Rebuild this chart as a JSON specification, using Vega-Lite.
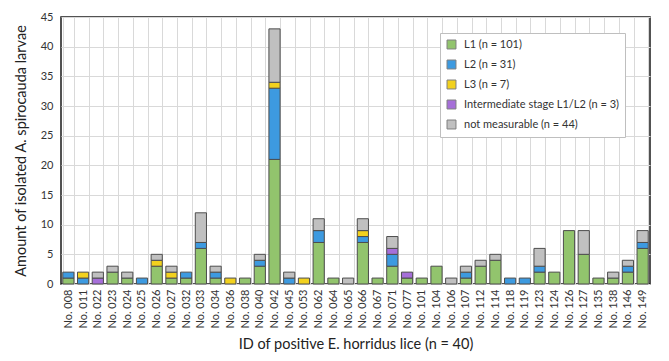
{
  "$schema": "https://vega.github.io/schema/vega-lite/v6.json",
  "autosize": {"type": "none"},
  "padding": {"left": 61, "top": 17, "right": 19, "bottom": 77},
  "width": 589,
  "height": 267,
  "background": "white",
  "config": {
    "font": "Lato",
    "view": {"stroke": "#1a1a1a", "strokeWidth": 1.5},
    "axis": {"labelFont": "Lato", "titleFont": "Lato", "labelColor": "#333333", "titleColor": "#222222", "titleFontWeight": "normal", "gridColor": "#d9d9d9", "gridWidth": 1}
  },
  "data": {"values": [
    {"id":"No. 008","stage":"L1 (n = 101)","o":1,"n":1},
    {"id":"No. 008","stage":"L2 (n = 31)","o":2,"n":1},
    {"id":"No. 011","stage":"L2 (n = 31)","o":2,"n":1},
    {"id":"No. 011","stage":"L3 (n = 7)","o":3,"n":1},
    {"id":"No. 022","stage":"Intermediate stage L1/L2 (n = 3)","o":4,"n":1},
    {"id":"No. 022","stage":"not measurable (n = 44)","o":5,"n":1},
    {"id":"No. 023","stage":"L1 (n = 101)","o":1,"n":2},
    {"id":"No. 023","stage":"not measurable (n = 44)","o":5,"n":1},
    {"id":"No. 024","stage":"L1 (n = 101)","o":1,"n":1},
    {"id":"No. 024","stage":"not measurable (n = 44)","o":5,"n":1},
    {"id":"No. 025","stage":"L2 (n = 31)","o":2,"n":1},
    {"id":"No. 026","stage":"L1 (n = 101)","o":1,"n":3},
    {"id":"No. 026","stage":"L3 (n = 7)","o":3,"n":1},
    {"id":"No. 026","stage":"not measurable (n = 44)","o":5,"n":1},
    {"id":"No. 027","stage":"L1 (n = 101)","o":1,"n":1},
    {"id":"No. 027","stage":"L3 (n = 7)","o":3,"n":1},
    {"id":"No. 027","stage":"not measurable (n = 44)","o":5,"n":1},
    {"id":"No. 032","stage":"L1 (n = 101)","o":1,"n":1},
    {"id":"No. 032","stage":"L2 (n = 31)","o":2,"n":1},
    {"id":"No. 033","stage":"L1 (n = 101)","o":1,"n":6},
    {"id":"No. 033","stage":"L2 (n = 31)","o":2,"n":1},
    {"id":"No. 033","stage":"not measurable (n = 44)","o":5,"n":5},
    {"id":"No. 034","stage":"L1 (n = 101)","o":1,"n":1},
    {"id":"No. 034","stage":"L2 (n = 31)","o":2,"n":1},
    {"id":"No. 034","stage":"not measurable (n = 44)","o":5,"n":1},
    {"id":"No. 036","stage":"L3 (n = 7)","o":3,"n":1},
    {"id":"No. 038","stage":"L1 (n = 101)","o":1,"n":1},
    {"id":"No. 040","stage":"L1 (n = 101)","o":1,"n":3},
    {"id":"No. 040","stage":"L2 (n = 31)","o":2,"n":1},
    {"id":"No. 040","stage":"not measurable (n = 44)","o":5,"n":1},
    {"id":"No. 042","stage":"L1 (n = 101)","o":1,"n":21},
    {"id":"No. 042","stage":"L2 (n = 31)","o":2,"n":12},
    {"id":"No. 042","stage":"L3 (n = 7)","o":3,"n":1},
    {"id":"No. 042","stage":"not measurable (n = 44)","o":5,"n":9},
    {"id":"No. 045","stage":"L2 (n = 31)","o":2,"n":1},
    {"id":"No. 045","stage":"not measurable (n = 44)","o":5,"n":1},
    {"id":"No. 053","stage":"L3 (n = 7)","o":3,"n":1},
    {"id":"No. 062","stage":"L1 (n = 101)","o":1,"n":7},
    {"id":"No. 062","stage":"L2 (n = 31)","o":2,"n":2},
    {"id":"No. 062","stage":"not measurable (n = 44)","o":5,"n":2},
    {"id":"No. 064","stage":"L1 (n = 101)","o":1,"n":1},
    {"id":"No. 065","stage":"not measurable (n = 44)","o":5,"n":1},
    {"id":"No. 066","stage":"L1 (n = 101)","o":1,"n":7},
    {"id":"No. 066","stage":"L2 (n = 31)","o":2,"n":1},
    {"id":"No. 066","stage":"L3 (n = 7)","o":3,"n":1},
    {"id":"No. 066","stage":"not measurable (n = 44)","o":5,"n":2},
    {"id":"No. 067","stage":"L1 (n = 101)","o":1,"n":1},
    {"id":"No. 071","stage":"L1 (n = 101)","o":1,"n":3},
    {"id":"No. 071","stage":"L2 (n = 31)","o":2,"n":2},
    {"id":"No. 071","stage":"Intermediate stage L1/L2 (n = 3)","o":4,"n":1},
    {"id":"No. 071","stage":"not measurable (n = 44)","o":5,"n":2},
    {"id":"No. 077","stage":"L1 (n = 101)","o":1,"n":1},
    {"id":"No. 077","stage":"Intermediate stage L1/L2 (n = 3)","o":4,"n":1},
    {"id":"No. 101","stage":"L1 (n = 101)","o":1,"n":1},
    {"id":"No. 104","stage":"L1 (n = 101)","o":1,"n":3},
    {"id":"No. 106","stage":"not measurable (n = 44)","o":5,"n":1},
    {"id":"No. 107","stage":"L1 (n = 101)","o":1,"n":1},
    {"id":"No. 107","stage":"L2 (n = 31)","o":2,"n":1},
    {"id":"No. 107","stage":"not measurable (n = 44)","o":5,"n":1},
    {"id":"No. 112","stage":"L1 (n = 101)","o":1,"n":3},
    {"id":"No. 112","stage":"not measurable (n = 44)","o":5,"n":1},
    {"id":"No. 114","stage":"L1 (n = 101)","o":1,"n":4},
    {"id":"No. 114","stage":"not measurable (n = 44)","o":5,"n":1},
    {"id":"No. 118","stage":"L2 (n = 31)","o":2,"n":1},
    {"id":"No. 119","stage":"L2 (n = 31)","o":2,"n":1},
    {"id":"No. 123","stage":"L1 (n = 101)","o":1,"n":2},
    {"id":"No. 123","stage":"L2 (n = 31)","o":2,"n":1},
    {"id":"No. 123","stage":"not measurable (n = 44)","o":5,"n":3},
    {"id":"No. 124","stage":"L1 (n = 101)","o":1,"n":2},
    {"id":"No. 126","stage":"L1 (n = 101)","o":1,"n":9},
    {"id":"No. 127","stage":"L1 (n = 101)","o":1,"n":5},
    {"id":"No. 127","stage":"not measurable (n = 44)","o":5,"n":4},
    {"id":"No. 135","stage":"L1 (n = 101)","o":1,"n":1},
    {"id":"No. 138","stage":"L1 (n = 101)","o":1,"n":1},
    {"id":"No. 138","stage":"not measurable (n = 44)","o":5,"n":1},
    {"id":"No. 146","stage":"L1 (n = 101)","o":1,"n":2},
    {"id":"No. 146","stage":"L2 (n = 31)","o":2,"n":1},
    {"id":"No. 146","stage":"not measurable (n = 44)","o":5,"n":1},
    {"id":"No. 149","stage":"L1 (n = 101)","o":1,"n":6},
    {"id":"No. 149","stage":"L2 (n = 31)","o":2,"n":1},
    {"id":"No. 149","stage":"not measurable (n = 44)","o":5,"n":2}
  ]},
  "mark": {"type": "bar", "stroke": "#4d4d4d", "strokeWidth": 1},
  "encoding": {
    "x": {
      "field": "id", "type": "nominal", "sort": null,
      "scale": {"paddingInner": 0.24, "paddingOuter": 0.12},
      "axis": {
        "title": "ID of positive E. horridus lice (n = 40)",
        "titleFontSize": 14.5, "titlePadding": 9,
        "labelAngle": -90, "labelFontSize": 11, "labelPadding": 5,
        "tickBand": "extent", "ticks": false, "domain": false,
        "grid": true
      }
    },
    "y": {
      "field": "n", "type": "quantitative", "stack": "zero",
      "scale": {"domain": [0, 45], "nice": false},
      "axis": {
        "title": "Amount of isolated A. spirocauda larvae",
        "titleFontSize": 14.5, "titlePadding": 12,
        "values": [0,5,10,15,20,25,30,35,40,45],
        "labelFontSize": 11, "labelPadding": 8,
        "ticks": false, "domain": false, "grid": true
      }
    },
    "color": {
      "field": "stage", "type": "nominal",
      "scale": {
        "domain": ["L1 (n = 101)", "L2 (n = 31)", "L3 (n = 7)", "Intermediate stage L1/L2 (n = 3)", "not measurable (n = 44)"],
        "range": ["#92c46d", "#3d9ae0", "#f2d11e", "#a66fd9", "#c0c0c0"]
      },
      "legend": {
        "title": null, "orient": "none", "legendX": 379, "legendY": 16,
        "direction": "vertical",
        "fillColor": "white", "strokeColor": "#bfbfbf", "padding": 6,
        "symbolType": "square", "symbolSize": 80, "symbolStrokeColor": "#7f7f7f", "symbolStrokeWidth": 1,
        "labelFontSize": 11, "labelColor": "#333333", "labelFont": "Lato", "labelLimit": 400,
        "rowPadding": 7, "labelOffset": 7
      }
    },
    "order": {"field": "o", "type": "quantitative"}
  }
}
